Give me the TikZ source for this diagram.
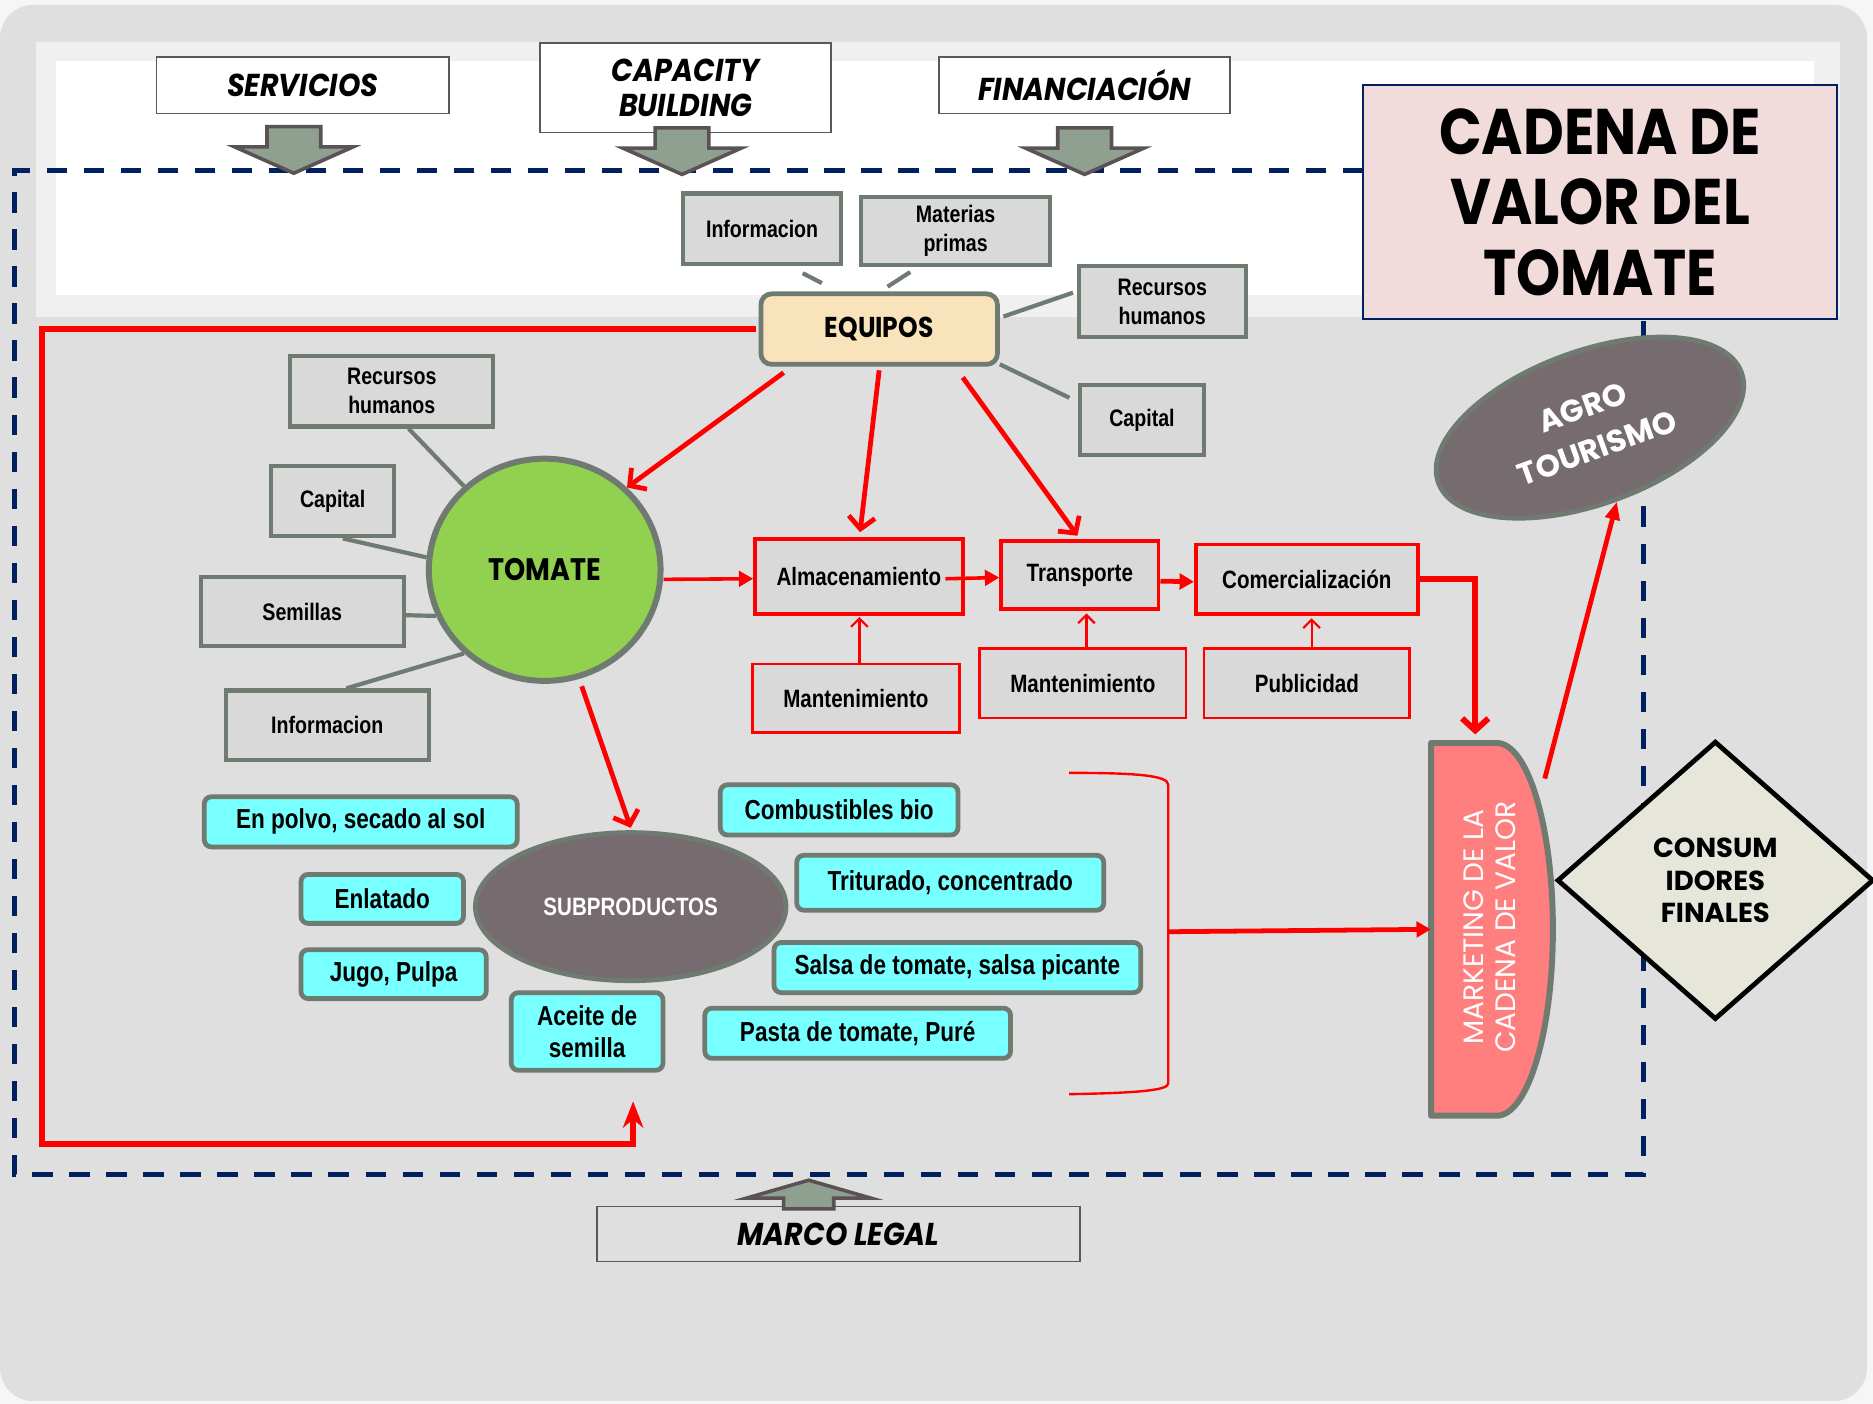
\documentclass[tikz,border=0pt]{standalone}
\usepackage{fontspec}
\setmainfont{Liberation Sans}
\newfontfamily\nar[FakeStretch=0.82]{Liberation Sans}
\newfontfamily\goth[FakeStretch=0.87]{Poppins}
\newfontfamily\gothw{Poppins}
\newfontfamily\gothn[FakeStretch=0.9]{Poppins}
\usetikzlibrary{arrows.meta,shapes.geometric,calc}
\definecolor{outer}{RGB}{246,246,246}
\definecolor{panel}{RGB}{223,223,223}
\definecolor{halo}{RGB}{240,240,240}
\definecolor{navy}{RGB}{0,32,96}
\definecolor{boxg}{RGB}{217,217,217}
\definecolor{bordg}{RGB}{111,123,112}
\definecolor{wheatc}{RGB}{248,227,186}
\definecolor{tgreen}{RGB}{146,208,80}
\definecolor{mauve}{RGB}{118,107,111}
\definecolor{cyanb}{RGB}{120,255,255}
\definecolor{salmon}{RGB}{255,127,127}
\definecolor{pinkt}{RGB}{242,220,219}
\definecolor{beigec}{RGB}{230,230,218}
\definecolor{arrfill}{RGB}{143,160,145}
\definecolor{arrline}{RGB}{90,82,85}
\definecolor{topline}{RGB}{89,89,89}
\newcommand\blkdown[2]{\filldraw[fill=arrfill,draw=arrline,line width=3pt,line join=miter]
  (#1-22.5,#2) -- (#1+22.5,#2) -- (#1+22.5,#2+17) -- (#1+49.5,#2+17) -- (#1,#2+39)
  -- (#1-49.5,#2+17) -- (#1-22.5,#2+17) -- cycle;}
\begin{document}
\begin{tikzpicture}[x=1pt,y=-1pt,
  wh/.style 2 args={minimum width=#1pt,minimum height=#2pt,inner sep=0pt},
  topbox/.style={draw=topline,line width=1.5pt,align=center,
     font=\gothn\bfseries\itshape\fontsize{26.5}{29}\selectfont},
  graybox/.style={draw=bordg,line width=3.5pt,fill=boxg,align=center,
     font=\nar\bfseries\fontsize{20}{24}\selectfont},
  redbox/.style={draw=red,line width=3pt,fill=boxg,align=center,
     font=\nar\bfseries\fontsize{21}{25}\selectfont},
  cyanbox/.style={draw=bordg,line width=4pt,fill=cyanb,rounded corners=6pt,align=center,
     font=\nar\bfseries\fontsize{23}{27}\selectfont},
  conn/.style={draw=bordg,line width=3.5pt},
  rarr/.style={draw=red,line width=4pt,-{Straight Barb[length=10pt,width=22pt]}},
  tarr/.style={draw=red,line width=3pt,-{Triangle[length=12pt,width=13pt]}},
  thinarr/.style={draw=red,line width=1.8pt,-{Straight Barb[length=7pt,width=14pt]}}]
\useasboundingbox (0,0) rectangle (1568,1175);
\fill[outer] (0,0) rectangle (1568,1175);
\fill[panel,rounded corners=28pt] (0,4) rectangle (1563,1173);
\fill[halo] (30,35) rectangle (1540,265);
\fill[white] (47,51) rectangle (1519,247);
% dashed frame
\draw[navy,line width=4pt,dash pattern=on 17pt off 14pt] (1141,143) -- (12,143) -- (12,983) -- (1376,983) -- (1376,266);
% top boxes
\node[topbox,fill=white,wh={245}{47}] (serv) at (253.5,71.5) {SERVICIOS};
\node[topbox,fill=white,wh={244}{75}] (capb) at (574,73.5) {CAPACITY\\BUILDING};
\node[topbox,fill=white,wh={244}{47}] (fin) at (908,71.5) {FINANCIACIÓN};
\node[topbox,wh={404}{46}] (marco) at (702,1033) {MARCO LEGAL};
\blkdown{246}{106}
\blkdown{571}{107}
\blkdown{908}{107}
\filldraw[fill=arrfill,draw=arrline,line width=3pt,line join=miter]
  (656,1012) -- (698,1012) -- (698,1003) -- (729,1003) -- (677,988) -- (625,1003) -- (656,1003) -- cycle;
% title
\node[draw=navy,line width=1.5pt,fill=pinkt,wh={397}{196},align=center,
  font=\goth\bfseries\fontsize{54}{59}\selectfont] (title) at (1339.5,169) {CADENA DE\\VALOR DEL\\TOMATE};
% main nodes
\node[draw=bordg,line width=4pt,fill=wheatc,rounded corners=9pt,wh={198}{59},
  font=\goth\bfseries\fontsize{24}{28}\selectfont] (equipos) at (736,275.5) {EQUIPOS};
% red loop
\coordinate (lpA) at (35,958);
\coordinate (lpE) at (530,922);
\draw[red,line width=5pt,-{Stealth[length=22pt,width=17pt,inset=7pt]}] ([xshift=-2pt]equipos.west) -| (lpA) -| (lpE);
\node[graybox,wh={132}{59}] (info1) at (638,191.5) {Informacion};
\node[graybox,wh={158}{57}] (mat) at (800,193.5) {Materias\\primas};
\node[graybox,wh={140}{59}] (rh1) at (973,252.5) {Recursos\\humanos};
\node[graybox,wh={104}{59}] (cap1) at (956,351.5) {Capital};
\node[graybox,wh={170}{59}] (rh2) at (328,327.5) {Recursos\\humanos};
\node[graybox,wh={103}{59}] (cap2) at (278.5,419.5) {Capital};
\node[graybox,wh={170}{58}] (sem) at (253,512) {Semillas};
\node[graybox,wh={170}{58}] (info2) at (274,607) {Informacion};
\node[ellipse,draw=bordg,line width=5pt,fill=tgreen,wh={194}{186},
  font=\goth\bfseries\fontsize{26}{30}\selectfont] (tomate) at (456,477) {TOMATE};
% grey connectors
\draw[conn] ([xshift=34pt,yshift=-6pt]info1.south) -- ([xshift=-48pt,yshift=7pt]equipos.north);
\draw[conn] ([xshift=-38pt,yshift=-4pt]mat.south) -- ([xshift=7pt,yshift=4pt]equipos.north);
\draw[conn] ([xshift=-3pt,yshift=7.5pt]rh1.west) -- ([xshift=3pt,yshift=10.5pt]equipos.east);
\draw[conn] ([xshift=-7pt,yshift=18.5pt]cap1.west) -- ([yshift=2pt]equipos.south east);
\draw[conn] ([xshift=14pt]rh2.south) -- (tomate.134);
\draw[conn] ([xshift=8.5pt]cap2.south) -- (tomate.174);
\draw[conn] ([yshift=-3pt]sem.east) -- (tomate.203);
\draw[conn] ([xshift=16pt]info2.north) -- (tomate.226);
% red chain
\node[redbox,wh={174}{63}] (alm) at (719,482.5) {Almacenamiento};
\node[redbox,wh={132}{57}] (tra) at (904,481.5) {Transporte};
\node[redbox,wh={186}{58}] (com) at (1094,485) {Comercialización};
\node[redbox,line width=2.2pt,wh={173}{57}] (man1) at (716.5,584.5) {Mantenimiento};
\node[redbox,line width=2.2pt,wh={173}{58}] (man2) at (906.5,572) {Mantenimiento};
\node[redbox,line width=2.2pt,wh={172}{58}] (pub) at (1094,572) {Publicidad};
\draw[rarr] ([xshift=21pt,yshift=-5pt]equipos.south west) -- (tomate.45);
\draw[rarr] ([yshift=-3pt]equipos.south) -- ([xshift=1pt,yshift=4pt]alm.north);
\draw[rarr] ([xshift=70pt,yshift=-9pt]equipos.south) -- ([xshift=-2pt,yshift=3pt]tra.north);
\draw[tarr] ([yshift=-8pt]tomate.east) -- ([yshift=-2pt]alm.west);
\draw[tarr] ([xshift=-16pt,yshift=-2pt]alm.east) -- ([yshift=-2pt]tra.west);
\draw[tarr,line width=4pt] ([yshift=-5pt]tra.east) -- ([yshift=-2pt]com.west);
\draw[thinarr,shorten >=1pt] ([xshift=3pt]man1.north) -- ([xshift=3pt]man1.north |- alm.south);
\draw[thinarr,shorten >=2pt] ([xshift=3pt]man2.north) -- ([xshift=3pt]man2.north |- tra.south);
\draw[thinarr,shorten >=2pt] ([xshift=4pt]pub.north) -- ([xshift=4pt]pub.north |- com.south);
% subproducts
\node[ellipse,draw=bordg,line width=4pt,fill=mauve,wh={260}{124},text=white,
  font=\nar\bfseries\fontsize{21}{24}\selectfont] (sub) at (528,759) {SUBPRODUCTOS};
\draw[rarr] ([xshift=31pt,yshift=-2pt]tomate.south) -- ([yshift=2pt]sub.north);
\node[cyanbox,wh={262}{42}] (c1) at (302,688) {En polvo, secado al sol};
\node[cyanbox,wh={199}{42}] (c2) at (702.5,678) {Combustibles bio};
\node[cyanbox,wh={136}{41}] (c3) at (320,752.5) {Enlatado};
\node[cyanbox,wh={257}{46}] (c4) at (795.5,739) {Triturado, concentrado};
\node[cyanbox,wh={155}{41}] (c5) at (329.5,815.5) {Jugo, Pulpa};
\node[cyanbox,wh={307}{42}] (c6) at (801.5,810) {Salsa de tomate, salsa picante};
\node[cyanbox,wh={127}{65}] (c7) at (491.5,863.5) {Aceite de\\semilla};
\node[cyanbox,wh={256}{42}] (c8) at (718,865) {Pasta de tomate, Puré};
% bracket
\draw[red,line width=2pt] (895,647) .. controls (950,647) and (978,649) .. (978,657) -- (978,907)
  .. controls (978,913) and (950,915) .. (895,916);
\coordinate (brk) at (978,780);
% marketing
\filldraw[fill=salmon,draw=bordg,line width=5pt,line join=round]
  (1198,622) -- (1253,622) .. controls (1279,622) and (1300,692) .. (1300,778)
  .. controls (1300,864) and (1279,934) .. (1253,934) -- (1198,934) -- cycle;
\node[wh={102}{312}] (mkt) at (1249,778) {};
\node[rotate=90,text=white,align=center,font=\gothw\fontsize{23.5}{27}\selectfont] (mktxt) at (1247,776)
  {MARKETING DE LA\\CADENA DE VALOR};
\draw[tarr,line width=4pt] (brk) -- (mkt.west);
\draw[rarr,line width=5pt,shorten >=7pt] (com.east) -| ([xshift=-14pt]mkt.north);
% consumers
\node[diamond,draw=black,line width=4pt,fill=beigec,minimum width=265pt,minimum height=233pt,
  inner sep=0pt,align=center,font=\gothw\bfseries\fontsize{23}{27}\selectfont] (cons) at (1436,737)
  {CONSUM\\IDORES\\FINALES};
% agro
\node[ellipse,draw=bordg,line width=4pt,fill=mauve,wh={270}{128},rotate=20,text=white,align=center,
  font=\gothw\bfseries\fontsize{26}{36}\selectfont] (agro) at (1331,358) {AGRO\\TOURISMO};
\draw[red,line width=4pt,-{Triangle[length=15pt,width=12pt]}] ([xshift=-7pt,yshift=-30pt]mkt.north east) -- (agro.south);
\end{tikzpicture}
\end{document}
